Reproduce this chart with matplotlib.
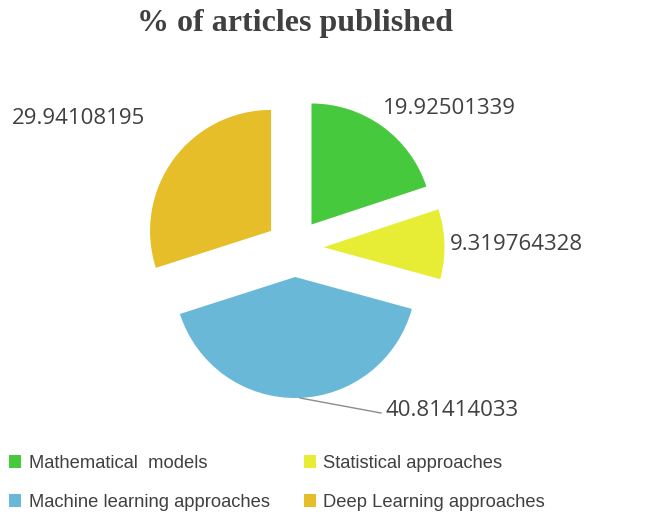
import matplotlib
matplotlib.use("Agg")
import matplotlib.pyplot as plt
from matplotlib.patches import Patch

categories = ["Mathematical  models", "Statistical approaches",
              "Machine learning approaches", "Deep Learning approaches"]
values = [19.92501339, 9.319764328, 40.81414033, 29.94108195]
value_labels = ["19.92501339", "9.319764328", "40.81414033", "29.94108195"]
colors = ["#46C93C", "#E6ED34", "#6AB8D8", "#E5BE2A"]

W, H = 646, 519
fig = plt.figure(figsize=(W / 100, H / 100), dpi=100)
ax = fig.add_axes([0, 0, 1, 1])

# pie in pixel units (center measured from the bottom), explode is absolute
wedges, _ = ax.pie(values, colors=colors, startangle=90, counterclock=False,
                   explode=[29] * 4, center=(294.5, H - 248), radius=121,
                   wedgeprops=dict(linewidth=0))
ax.set_xlim(0, W)
ax.set_ylim(0, H)
ax.set_aspect("auto")
ax.axis("off")

txt = dict(fontsize=16, color="#404040", family="Open Sans", va="center")
label_pos = [(383, 108), (450, 244), (385, 411), (12, 118)]
for (x, y), s in zip(label_pos, value_labels):
    ax.text(x, H - y, s, ha="left", **txt)

# leader line for the blue slice
ax.plot([300, 381], [H - 398, H - 413], color="#8c8c8c", lw=1)

fig.text(0.457, 1 - 24 / H, "% of articles published", ha="center", va="center",
         fontsize=23, fontweight="bold", family="Liberation Serif", color="#404040")

# legend is filled row by row in the reference
order = [0, 2, 1, 3]
handles = [Patch(facecolor=colors[i], edgecolor="none") for i in order]
labels = [categories[i] for i in order]
leg = fig.legend(handles, labels, ncol=2, frameon=False,
                 loc="center left", bbox_to_anchor=(0.003, 1 - 483 / H),
                 prop=dict(family=["Liberation Sans Narrow", "Liberation Sans"], size=13.2),
                 handlelength=0.66, handleheight=0.66, handletextpad=0.4,
                 columnspacing=1.85, labelspacing=1.2, borderaxespad=0)
for t in leg.get_texts():
    t.set_color("#404040")

fig.savefig("out.png", dpi=100)
